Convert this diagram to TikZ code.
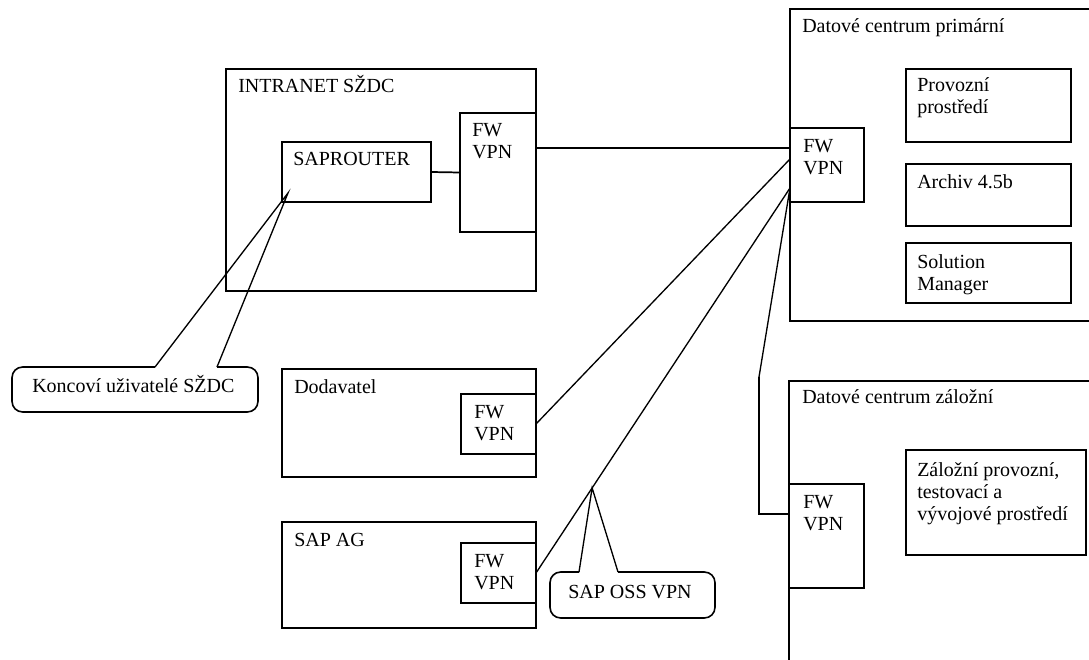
\documentclass[tikz,border=0pt]{standalone}
\usepackage{fontspec}
\setmainfont{Liberation Serif}
\usetikzlibrary{calc}
\newcommand\mlines[1]{\begin{tabular}[t]{@{}l@{}}#1\end{tabular}}
\newcommand\bx[5]{\node[bx, minimum width={(#4-#2)*0.75pt}, minimum height={(#5-#3)*0.75pt}] (#1) at (#2,#3) {};}
\tikzset{
  bx/.style={draw, line width=1.3pt, inner sep=0pt, outer sep=0pt, anchor=north west},
  lbl/.style={inner sep=0pt, anchor=base west, font=\fontsize{15}{16.5}\selectfont},
  conn/.style={line width=1.3pt},
  ptr/.style={line width=1pt},
  bubble/.style={line width=1.2pt, rounded corners=8}
}
\begin{document}
\begin{tikzpicture}[x=0.75pt,y=-0.75pt, line join=miter]
\useasboundingbox (0,0) rectangle (1089,660);
% ---- boxes ----
\bx{intranet}{226}{69}{536}{291}
\bx{sap}{282}{142}{431}{202}
\bx{fwi}{460}{113}{536}{232}
\bx{dod}{282}{369}{536}{477}
\bx{fwd}{461}{394}{536}{454}
\bx{sapag}{282}{522}{536}{628}
\bx{fwa}{461}{543}{536}{603}
\bx{fwp}{790}{128}{864}{202}
\bx{prov}{906}{69}{1071}{142}
\bx{arch}{906}{164}{1071}{226}
\bx{solm}{906}{243}{1071}{303}
\bx{fwb}{789}{484}{864}{588}
\bx{zal}{906}{450}{1086}{555}
% data centres (open to the right / bottom)
\coordinate (dcp1) at (1089,9);
\coordinate (dcp2) at (1089,321);
\draw[conn] (dcp1) -| (fwp.north west) (fwp.south west) |- (dcp2);
\coordinate (dcb1) at (1089,381);
\coordinate (dcb2) at (789,660);
\draw[conn] (dcb1) -| (fwb.north west) (fwb.south west) -- (dcb2);
% ---- labels ----
\node[lbl] (t-intra) at (238,93) {INTRANET SŽDC};
\node[lbl] (t-sap) at (293,166) {SAPROUTER};
\node[lbl] (t-fwi) at (472,137) {\mlines{FW\\VPN}};
\node[lbl] (t-dod) at (294,393) {Dodavatel};
\node[lbl] (t-fwd) at (474,418) {\mlines{FW\\VPN}};
\node[lbl] (t-sapag) at (294,546) {SAP AG};
\node[lbl] (t-fwa) at (474,567) {\mlines{FW\\VPN}};
\node[lbl] (t-dcp) at (802,33) {Datové centrum primární};
\node[lbl] (t-fwp) at (803,152) {\mlines{FW\\VPN}};
\node[lbl] (t-prov) at (917,92) {\mlines{Provozní\\prostředí}};
\node[lbl] (t-arch) at (917,188) {Archiv 4.5b};
\node[lbl] (t-solm) at (917,268) {\mlines{Solution\\Manager}};
\node[lbl] (t-dcb) at (802,403) {Datové centrum záložní};
\node[lbl] (t-fwb) at (803,508) {\mlines{FW\\VPN}};
\node[lbl] (t-zal) at (917,476) {\mlines{Záložní provozní,\\testovací a\\vývojové prostředí}};
\node[lbl] (t-kon) at (32,392) {Koncoví uživatelé SŽDC};
\node[lbl] (t-oss) at (568,598) {SAP OSS VPN};
% ---- connectors ----
\coordinate (y148) at (0,148);
\coordinate (y159) at (0,159);
\coordinate (y188) at (0,188);
\coordinate (y514) at (0,514);
\coordinate (bend) at (759,377);
\draw[conn] (sap.east) -- (fwi.west);
\draw[conn] (fwi.east |- y148) -- (fwp.west |- y148);
\draw[ptr] (fwp.west |- y159) -- (fwd.east);
\draw[ptr] (fwp.west |- y188) -- (fwa.east);
\draw[ptr] (fwp.west |- y188) -- (bend);
\draw[conn] (bend) |- (fwb.west |- y514);
% ---- callout: Koncoví uživatelé ----
\coordinate (kapex) at (288,193);
\coordinate (kb1) at (155,367);
\coordinate (kb2) at (217,367);
\draw[bubble] (kb2) -- (258,367) -- (258,412) -- (12,412) -- (12,367) -- (kb1);
\draw[ptr] (kb1) -- (kapex) -- (kb2);
% ---- callout: SAP OSS VPN ----
\coordinate (oapex) at ($(fwp.west |- y188)!0.779!(fwa.east)$);
\coordinate (ob1) at (579,572);
\coordinate (ob2) at (618,572);
\draw[bubble] (ob2) -- (715,572) -- (715,618) -- (550,618) -- (550,572) -- (ob1);
\draw[ptr] (ob1) -- (oapex) -- (ob2);
\end{tikzpicture}
\end{document}
